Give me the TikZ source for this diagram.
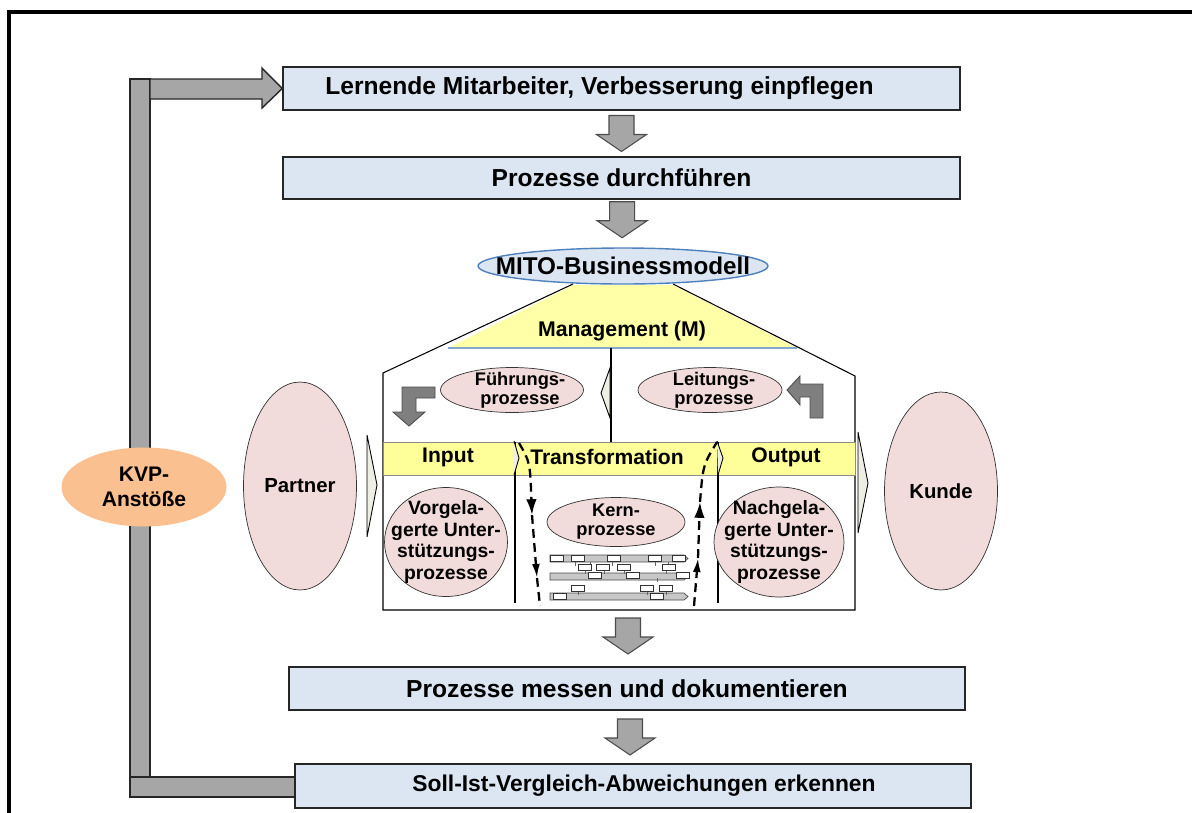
\documentclass[tikz,border=0pt]{standalone}
\usepackage{fontspec}
\setmainfont{Liberation Sans}
\usetikzlibrary{calc,positioning,shapes.geometric,arrows.meta}
\definecolor{boxblue}{HTML}{DCE6F2}
\definecolor{cellpink}{HTML}{F2DCDB}
\definecolor{bandyellow}{HTML}{FFFF99}
\definecolor{roofyellow}{HTML}{FFFFA8}
\definecolor{kvporange}{HTML}{FAC090}
\definecolor{arrowgray}{HTML}{A6A6A6}
\definecolor{bentgray}{HTML}{7F7F7F}
\definecolor{chevfill}{HTML}{EEEEE4}
\definecolor{ellblue}{HTML}{4F81BD}
\tikzset{
  stepbox/.style={
    rectangle,
    draw=black!85, line width=0.9pt,
    fill=boxblue,
    minimum width=13.54cm,
    minimum height=0.86cm,
    font=\bfseries\fontsize{14}{16}\selectfont},
  procell/.style={
    ellipse, draw=black!80, fill=cellpink, inner sep=0pt},
  celltext/.style={
    align=center, inner sep=0pt,
    font=\bfseries\fontsize{10.4}{10.8}\selectfont},
  bandlabel/.style={font=\bfseries\fontsize{12}{14}\selectfont},
  flowarrow/.pic={
    \draw[draw=black!70, fill=arrowgray, line width=0.6pt]
      (-12.5,-18) -- (12.5,-18) -- (12.5,1) -- (25,1) -- (0,18)
      -- (-25,1) -- (-12.5,1) -- cycle;},
  bentarrow/.style={draw=black!70, fill=bentgray, line width=0.5pt},
  chevron/.style={draw=black, fill=chevfill, line width=0.5pt},
  backloop/.style={draw=black!85, fill=arrowgray, line width=0.8pt},
  dashflow/.style={line width=1.3pt, dash pattern=on 5pt off 3pt},
  house/.style={draw=black, line width=0.6pt}
}

\begin{document}
\begin{tikzpicture}[x=0.02cm, y=-0.02cm]
  \useasboundingbox (0,0) rectangle (1192,812);
  \draw[line width=2.2pt] (9,12) rectangle (1210,830);

  % steps
  \node[stepbox] (lern) at (621.5,88.5) {Lernende Mitarbeiter, Verbesserung einpflegen\hspace*{0.88cm}};
  \node[stepbox, minimum height=0.84cm] (durch) at (621.5,178) {Prozesse durchführen};
  \node[stepbox, minimum width=13.52cm] (mess) at (627,688.5) {Prozesse messen und dokumentieren};
  \node[stepbox, minimum width=13.52cm, minimum height=0.88cm, font=\bfseries\fontsize{13}{15}\selectfont]
    (soll) at (633,786) {\hspace*{0.44cm}Soll-Ist-Vergleich-Abweichungen erkennen};

  % roof
  \fill[roofyellow] (448,348) -- (573,285) -- (673,285) -- (797,348) -- cycle;
  \draw[ellblue!70, line width=1pt] (448,348) -- (797,348);
  \node[font=\bfseries\fontsize{12.1}{14}\selectfont] (mgmt) at (622,331) {Management (M)};
  \draw[house] (573,284) -- (383,373) -- (383,610) -- (855,610) -- (855,376) -- (673,284);
  \draw[house] (611,348) -- (611,442);

  \node[ellipse, draw=ellblue, fill=boxblue, line width=0.8pt, minimum width=5.8cm, minimum height=0.72cm,
    inner sep=0pt, label={[font=\bfseries\fontsize{13.8}{16}\selectfont, inner sep=0pt]center:MITO-Businessmodell}]
    (mito) at (623,266) {};

  % band
  \draw[fill=bandyellow, draw=black!45] (383,442) rectangle (855,475);
  \draw[house] (515,442) -- (515,603);
  \draw[house] (718,442) -- (718,603);
  \draw[chevron] (514,441) -- (519,458) -- (514,475);
  \draw[chevron] (717,441) -- (723,458) -- (718,475);
  \node[bandlabel] (input) at (448,457) {Input};
  \node[bandlabel] (transf) at (607,457) {Transformation};
  \node[bandlabel] (output) at (786,457) {Output};

  % processes
  \node[procell, minimum width=2.86cm, minimum height=0.9cm,
    label={[celltext, xshift=0.16cm]center:Führungs-\\prozesse}] (fuehr) at (512,390) {};
  \node[procell, minimum width=2.88cm, minimum height=0.9cm,
    label={[celltext, xshift=0.08cm]center:Leitungs-\\prozesse}] (leit) at (710,390) {};
  \node[procell, minimum width=2.76cm, minimum height=0.98cm,
    label={[celltext]center:Kern-\\prozesse}] (kern) at (616,522) {};
  \node[procell, minimum width=2.46cm, minimum height=2.18cm,
    label={[celltext, font=\bfseries\fontsize{11}{12.4}\selectfont]center:Vorgela-\\gerte Unter-\\stützungs-\\prozesse}] (vorg) at (446,542) {};
  \node[procell, minimum width=2.6cm, minimum height=2.2cm,
    label={[celltext, font=\bfseries\fontsize{11}{12.4}\selectfont]center:Nachgela-\\gerte Unter-\\stützungs-\\prozesse}] (nach) at (779,542) {};
  \node[procell, minimum width=2.26cm, minimum height=4.16cm,
    label={[celltext, font=\bfseries\fontsize{11.6}{14}\selectfont]center:Partner}] (partner) at (300,486) {};
  \node[procell, minimum width=2.26cm, minimum height=3.96cm,
    label={[celltext, font=\bfseries\fontsize{11.6}{14}\selectfont]center:Kunde}] (kunde) at (941,491) {};

  \draw[chevron] (367,435) -- (377,485) -- (367,537) -- cycle;
  \draw[chevron] (858,432) -- (868,483) -- (858,533) -- cycle;
  \draw[chevron] (610,368) -- (601,393) -- (610,418) -- cycle;

  % bent arrows
  \draw[bentarrow] (435,387) -- (402,387) -- (402,412) -- (393,412) -- (409,426)
    -- (425,412) -- (416,412) -- (416,398) -- (435,398) -- cycle;
  \draw[bentarrow] (823,384) -- (823,418) -- (810,418) -- (810,397) -- (800,397)
    -- (800,405) -- (787,390) -- (800,376) -- (800,384) -- cycle;

  % small process chart
  \foreach \y in {555,573,593}
    \draw[draw=black!70, fill=black!22, line width=0.4pt]
      (550,\y) -- (684,\y) -- (688,\y+3.5) -- (684,\y+7) -- (550,\y+7) -- cycle;
  \foreach \x/\y in {575/562, 590/562, 612/562, 655/562, 668/562,
                     585/570, 604/570, 624/570, 666/570,
                     578/591, 647/591, 666/591, 657/578}
    \draw[black!60, line width=0.3pt] (\x,\y) -- (\x,\y+4);
  \foreach \x/\y in {550/555, 571/555, 607/555, 648/555, 672/555,
                     578/564, 596/564, 617/564, 662/564,
                     588/572, 626/572, 676/572,
                     571/585, 640/585, 659/585,
                     553/593, 650/593}
    \draw[fill=white, draw=black!80, line width=0.3pt] (\x,\y) rectangle ++(13,6);

  % flow in transformation
  \draw[dashflow, -{Latex[length=9pt,width=6pt]}] (519,443) .. controls (530,462) .. (532,515);
  \draw[dashflow, -{Latex[length=8pt,width=4.5pt]}] (532,515) -- (537,578);
  \draw[dashflow] (537,578) -- (540,606);
  \draw[dashflow, -{Latex[length=8pt,width=4.5pt]}] (694,606) -- (698,558);
  \draw[dashflow, -{Latex[length=9pt,width=6pt]}] (698,558) -- (700,502);
  \draw[dashflow] (700,502) .. controls (703,465) .. (717,442);

  % flow arrows
  \pic at ($(lern.south)!0.5!(durch.north)$) {flowarrow};
  \pic at ($(durch.south)!0.42!(mito.north)$) {flowarrow};
  \pic at (628,636) {flowarrow};
  \pic at ($(mess.south)!0.5!(soll.north)$) {flowarrow};

  % KVP loop
  \draw[backloop] (130,79) rectangle (150,797);
  \draw[backloop] (130,777) rectangle (soll.west |- 0,797);
  \draw[backloop] (150,79) -- (262,79) -- (262,68) -- (lern.west) -- (262,108) -- (262,99) -- (150,99) -- cycle;
  \node[ellipse, fill=kvporange, minimum width=3.3cm, minimum height=1.58cm, inner sep=0pt, align=center,
    font=\bfseries\fontsize{12}{14}\selectfont] (kvp) at (144,487) {KVP-\\Anstöße};
\end{tikzpicture}
\end{document}
